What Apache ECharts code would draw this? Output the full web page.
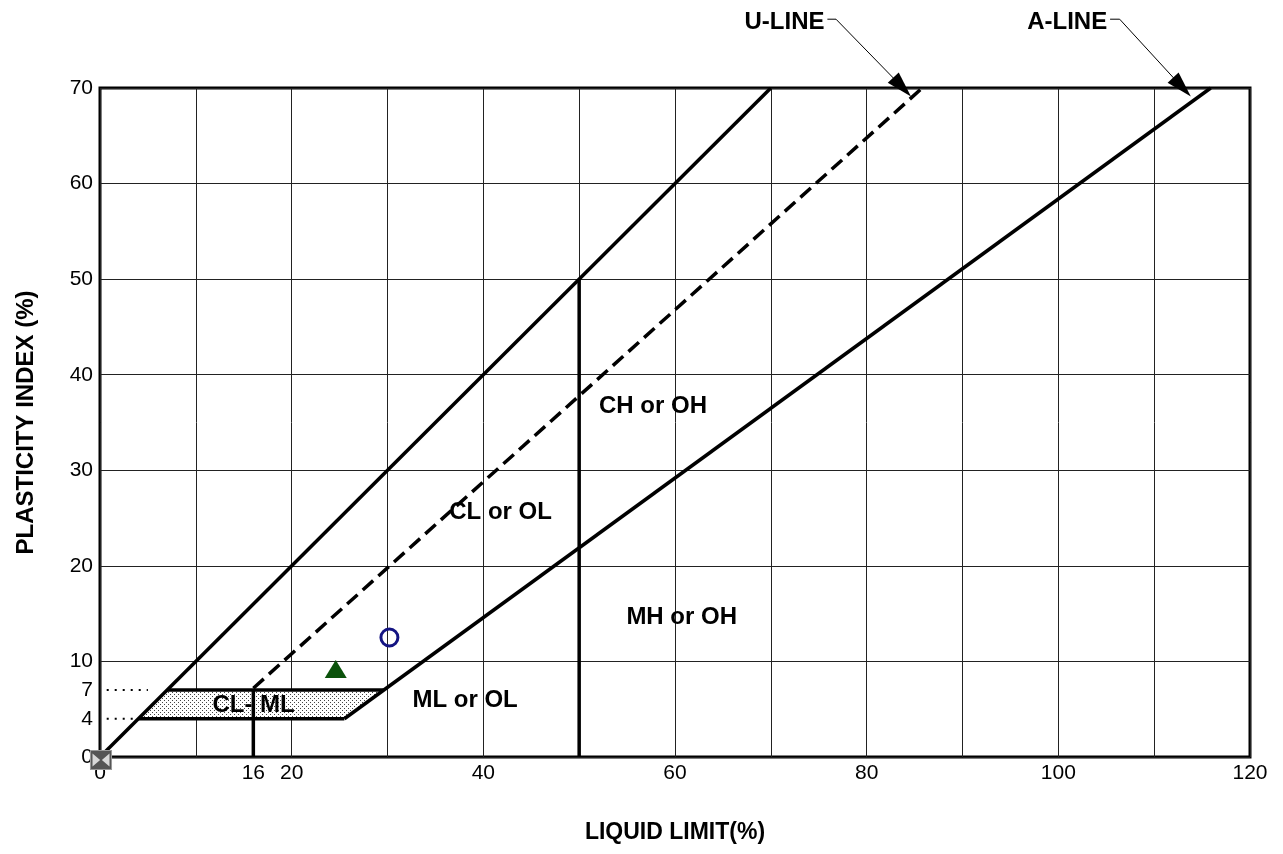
<!DOCTYPE html>
<html>
<head>
<meta charset="utf-8">
<script src="https://cdn.jsdelivr.net/npm/echarts@6/dist/echarts.min.js"></script>
<style>
  html, body { margin: 0; padding: 0; background: #fff; }
  #chart { width: 1283px; height: 854px; }
</style>
</head>
<body>
<div id="chart"></div>
<script>
// axis ticks
const xLabels = [0, 16, 20, 40, 60, 80, 100, 120]
const yLabels = [0, 4, 7, 10, 20, 30, 40, 50, 60, 70]

// chart boundary lines (LL, PI)
const upperLine = [[0, 0], [70, 70]]
const aLine = [[25.5, 4], [115.9, 70]]
const uLine = [[16, 7.2], [85.8, 70]]
const ll50Line = [[50, 0], [50, 50]]
const ll16Line = [[16, 0], [16, 7]]
const clmlZone = [[4, 4], [25.5, 4], [29.6, 7], [7, 7]]
const clmlTop = [[7, 7], [29.6, 7]]
const clmlBottom = [[4, 4], [25.5, 4]]
const dots7 = [[0.7, 7], [5, 7]]
const dots4 = [[0.7, 4], [3.5, 4]]

// samples
const sampleTriangle = [[24.6, 9.2]]
const sampleCircle = [[30.2, 12.5]]
const sampleOrigin = [[0, 0]]

// zone labels
const zoneLabels = [
  { name: 'CH or OH', value: [57.7, 36.7] },
  { name: 'CL or OL', value: [41.8, 25.6] },
  { name: 'MH or OH', value: [60.7, 14.6] },
  { name: 'ML or OL', value: [38.1, 5.9] }
]
const clLeft = [{ name: 'CL-', value: [15.9, 5.4] }]
const clRight = [{ name: 'ML', value: [16.7, 5.4] }]

// leader annotations
const uLeader = [[75.9, 77.2], [76.8, 77.2], [83.7, 70.1]]
const aLeader = [[105.4, 77.2], [106.4, 77.2], [112.9, 70.1]]
const leaderHeads = [[83.7, 70.1], [112.9, 70.1]]
const leaderLabels = [
  { name: 'U-LINE', value: [75.6, 76.9] },
  { name: 'A-LINE', value: [105.1, 76.9] }
]

const FONT = "'Liberation Sans', Arial, sans-serif"

const chart = echarts.init(document.getElementById('chart'))

// dotted fill for CL-ML zone
const pat = document.createElement('canvas')
pat.width = 4
pat.height = 4
const pctx = pat.getContext('2d')
pctx.fillStyle = '#fff'
pctx.fillRect(0, 0, 4, 4)
pctx.fillStyle = '#444'
pctx.fillRect(0, 0, 1, 1)
pctx.fillRect(2, 2, 1, 1)

function solid(data, width, extra) {
  return Object.assign({
    type: 'line',
    data: data,
    symbol: 'none',
    silent: true,
    lineStyle: { color: '#000', width: width },
    z: 3
  }, extra || {})
}

function textSeries(data, align, clip) {
  return {
    type: 'scatter',
    data: data,
    clip: clip,
    silent: true,
    symbolSize: 1,
    itemStyle: { color: 'rgba(0,0,0,0)', opacity: 1 },
    label: {
      show: true,
      position: 'inside',
      align: align,
      formatter: '{b}',
      color: '#000',
      fontSize: 24,
      fontWeight: 'bold',
      fontFamily: FONT
    },
    z: 8
  }
}

const option = {
  backgroundColor: '#fff',
  animation: false,
  grid: {
    left: 100,
    right: 33,
    top: 88,
    bottom: 97,
    show: true,
    borderColor: '#000',
    borderWidth: 3
  },
  xAxis: {
    type: 'value',
    min: 0,
    max: 120,
    interval: 10,
    name: 'LIQUID LIMIT(%)',
    nameLocation: 'middle',
    nameGap: 64,
    nameTextStyle: { color: '#000', fontSize: 23, fontWeight: 'bold', fontFamily: FONT },
    axisLine: { show: false },
    axisTick: { show: false },
    axisLabel: {
      customValues: xLabels,
      color: '#000',
      fontSize: 21,
      fontFamily: FONT,
      margin: 6
    },
    splitLine: { lineStyle: { color: '#222', width: 1 } }
  },
  yAxis: {
    type: 'value',
    min: 0,
    max: 70,
    interval: 10,
    name: 'PLASTICITY INDEX (%)',
    nameLocation: 'middle',
    nameGap: 62,
    nameTextStyle: { color: '#000', fontSize: 24, fontWeight: 'bold', fontFamily: FONT },
    axisLine: { show: false },
    axisTick: { show: false },
    axisLabel: {
      customValues: yLabels,
      color: '#000',
      fontSize: 21,
      fontFamily: FONT,
      margin: 7
    },
    splitLine: { lineStyle: { color: '#222', width: 1 } }
  },
  series: [
    {
      type: 'custom',
      silent: true,
      z: 2,
      data: [0],
      renderItem: function (params, api) {
        const pts = clmlZone.map(p => api.coord(p))
        return {
          type: 'polygon',
          shape: { points: pts },
          style: { fill: { image: pat, repeat: 'repeat' } }
        }
      }
    },
    solid(upperLine, 3.5),
    solid(aLine, 3.5),
    solid(uLine, 3.5, { lineStyle: { color: '#000', width: 3.5, type: [14, 7] } }),
    solid(ll50Line, 3.5),
    solid(ll16Line, 3.5),
    solid(clmlTop, 3.5),
    solid(clmlBottom, 3.5),
    solid(dots7, 2, { lineStyle: { color: '#000', width: 2, type: [2, 6] } }),
    solid(dots4, 2, { lineStyle: { color: '#000', width: 2, type: [2, 6] } }),
    solid(uLeader, 1, { clip: false }),
    solid(aLeader, 1, { clip: false }),
    {
      type: 'scatter',
      data: leaderHeads,
      clip: false,
      silent: true,
      symbol: 'triangle',
      symbolSize: [15, 26],
      symbolRotate: -137,
      itemStyle: { color: '#000', opacity: 1 },
      z: 5
    },
    {
      type: 'scatter',
      data: sampleOrigin,
      clip: false,
      silent: true,
      symbol: 'rect',
      symbolSize: [21, 19],
      symbolOffset: [1, 3],
      itemStyle: { color: '#555', borderColor: '#999', borderWidth: 1, opacity: 1 },
      z: 6
    },
    {
      type: 'scatter',
      data: sampleOrigin,
      clip: false,
      silent: true,
      symbol: 'path://M0,0 L9,5 L0,10 Z M20,0 L11,5 L20,10 Z',
      symbolSize: [17, 13],
      symbolOffset: [1, 3],
      itemStyle: { color: '#d8d8d8', opacity: 1 },
      z: 7
    },
    {
      type: 'scatter',
      data: sampleTriangle,
      silent: true,
      symbol: 'triangle',
      symbolSize: [22, 18],
      itemStyle: { color: '#0b520b', opacity: 1 },
      z: 6
    },
    {
      type: 'scatter',
      data: sampleCircle,
      silent: true,
      symbol: 'circle',
      symbolSize: 17,
      itemStyle: { color: 'rgba(0,0,0,0)', borderColor: '#141482', borderWidth: 3, opacity: 1 },
      z: 6
    },
    textSeries(zoneLabels, 'center', true),
    textSeries(clLeft, 'right', true),
    textSeries(clRight, 'left', true),
    textSeries(leaderLabels, 'right', false)
  ]
}

chart.setOption(option)
</script>
</body>
</html>
